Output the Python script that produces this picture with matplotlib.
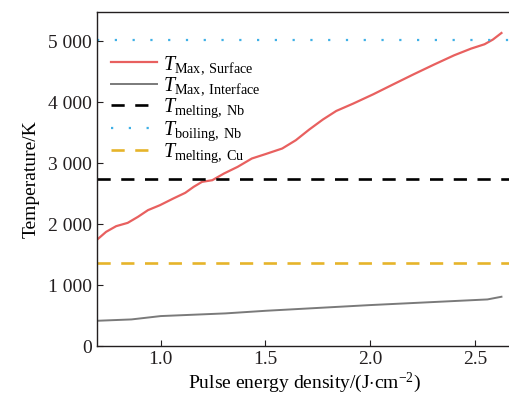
import matplotlib
matplotlib.use("Agg")
from matplotlib import pyplot as plt
from matplotlib.ticker import FuncFormatter

plt.rcParams['font.family'] = ['Liberation Serif', 'DejaVu Serif']
plt.rcParams['mathtext.fontset'] = 'custom'
plt.rcParams['mathtext.rm'] = 'Liberation Serif'
plt.rcParams['mathtext.it'] = 'Liberation Serif:italic'

# Max surface temperature vs pulse energy density
x_surface = [0.697, 0.739, 0.787, 0.842, 0.891, 0.939, 0.996, 1.06, 1.117, 1.157,
             1.197, 1.246, 1.302, 1.367, 1.435, 1.499, 1.580, 1.645, 1.709, 1.774,
             1.838, 1.919, 2.015, 2.111, 2.208, 2.305, 2.401, 2.482, 2.546, 2.586, 2.627]
t_surface = [1749, 1874, 1967, 2021, 2120, 2230, 2311, 2421, 2514, 2612,
             2694, 2721, 2831, 2940, 3077, 3148, 3241, 3377, 3552, 3716,
             3857, 3978, 4131, 4295, 4459, 4618, 4770, 4880, 4951, 5028, 5136]

# Max interface temperature
x_interface = [0.697, 0.860, 1.0, 1.309, 1.502, 1.998, 2.56, 2.627]
t_interface = [415, 437, 492, 536, 579, 672, 765, 809]

# Reference temperatures
t_melt_nb = 2741
t_boil_nb = 5017
t_melt_cu = 1358

fig = plt.figure(figsize=(5.1, 4.01), dpi=100)
ax = fig.add_axes([0.190, 0.137, 0.815, 0.833])

ax.plot(x_surface, t_surface, color='#e8605f', lw=1.6, label=r'$T_{\rm Max,\ Surface}$')
ax.plot(x_interface, t_interface, color='#7a7a7a', lw=1.4, label=r'$T_{\rm Max,\ Interface}$')
ax.axhline(t_melt_nb, color='black', lw=1.9, ls=(0, (5, 4)), label=r'$T_{\rm melting,\ Nb}$')
ax.axhline(t_boil_nb, color='#3fb0e6', lw=1.6, ls=(0, (1, 7)), label=r'$T_{\rm boiling,\ Nb}$')
ax.axhline(t_melt_cu, color='#e6b42a', lw=1.9, ls=(0, (5, 4)), label=r'$T_{\rm melting,\ Cu}$')

ax.set_xlim(0.695, 2.68)
ax.set_ylim(0, 5480)
ax.set_xticks([1.0, 1.5, 2.0, 2.5])
ax.set_yticks([0, 1000, 2000, 3000, 4000, 5000])
ax.yaxis.set_major_formatter(FuncFormatter(lambda v, p: '{:,}'.format(int(v)).replace(',', ' ')))
ax.tick_params(direction='in', length=4, labelsize=14, colors='#231f20')
ax.spines['right'].set_visible(False)
for s in ['left', 'bottom', 'top']:
    ax.spines[s].set_color('#231f20')
    ax.spines[s].set_linewidth(1.0)

ax.set_xlabel(r'Pulse energy density/(J$\cdot$cm$^{-2}$)', fontsize=14, labelpad=2)
ax.set_ylabel('Temperature/K', fontsize=14, labelpad=6)

leg = ax.legend(loc='upper left', bbox_to_anchor=(0.0, 0.915), frameon=False, fontsize=14.5,
                handlelength=2.3, handletextpad=0.3, labelspacing=-0.04, borderaxespad=0.3)

fig.savefig('out.png', dpi=100)
